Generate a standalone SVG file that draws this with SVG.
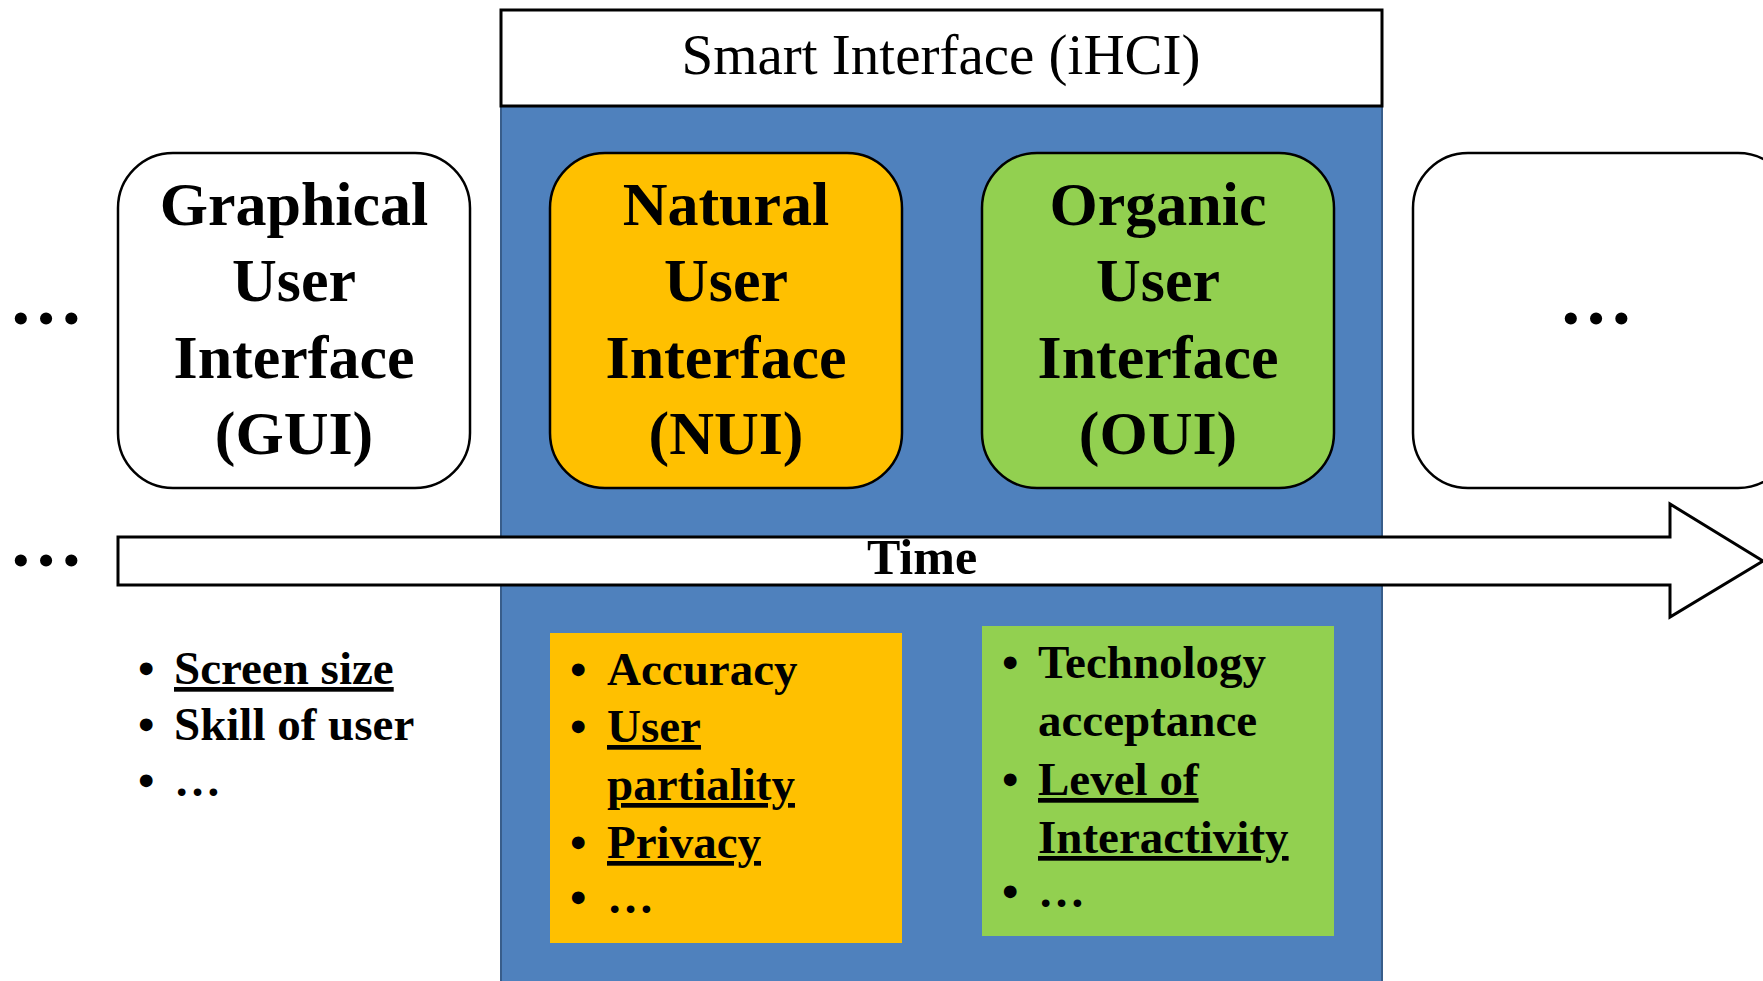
<svg xmlns="http://www.w3.org/2000/svg" width="1763" height="981" viewBox="0 0 1763 981">
<style>
.box{stroke:#000;stroke-width:2.5}
.big{font-family:"Liberation Serif",serif;font-weight:bold;font-size:62px;text-anchor:middle;fill:#000}
.li{font-family:"Liberation Serif",serif;font-weight:bold;font-size:47px;fill:#000}
.u{text-decoration:underline}
.dots{font-family:"Liberation Serif",serif;font-weight:bold;font-size:75px;fill:#000}
</style>
<rect width="1763" height="981" fill="#fff"/>
<g id="smart-interface">
<rect x="501" y="106" width="881" height="880" fill="#4F81BD" stroke="#385D8A" stroke-width="2"/>
<rect x="501" y="10" width="881" height="96" fill="#fff" stroke="#000" stroke-width="3"/>
<text x="941" y="74" font-family="Liberation Serif, serif" font-size="57" text-anchor="middle">Smart Interface (iHCI)</text>
</g>
<g id="gui">
<rect class="box" x="118" y="153" width="352" height="335" rx="55" fill="#fff"/>
<text class="big" x="294" y="225">Graphical</text>
<text class="big" x="294" y="301">User</text>
<text class="big" x="294" y="378">Interface</text>
<text class="big" x="294" y="454">(GUI)</text>
</g>
<g id="nui">
<rect class="box" x="550" y="153" width="352" height="335" rx="55" fill="#FFC000"/>
<text class="big" x="726" y="225">Natural</text>
<text class="big" x="726" y="301">User</text>
<text class="big" x="726" y="378">Interface</text>
<text class="big" x="726" y="454">(NUI)</text>
</g>
<g id="oui">
<rect class="box" x="982" y="153" width="352" height="335" rx="55" fill="#92D050"/>
<text class="big" x="1158" y="225">Organic</text>
<text class="big" x="1158" y="301">User</text>
<text class="big" x="1158" y="378">Interface</text>
<text class="big" x="1158" y="454">(OUI)</text>
</g>
<g id="next">
<rect class="box" x="1413" y="153" width="380" height="335" rx="55" fill="#fff"/>
<text class="dots" x="1596" y="324" text-anchor="middle">…</text>
</g>
<g id="left-dots">
<text class="dots" x="46" y="324" text-anchor="middle">…</text>
<text class="dots" x="46" y="566" text-anchor="middle">…</text>
</g>
<g id="connectors">
<polygon points="118,537 1670,537 1670,504 1763,561 1670,617 1670,585 118,585" fill="#fff" stroke="#000" stroke-width="3"/>
<text x="922" y="574" font-family="Liberation Serif, serif" font-weight="bold" font-size="50" text-anchor="middle">Time</text>
</g>
<g id="gui-list">
<text class="li" x="138" y="684">•</text><text class="li u" x="174" y="684">Screen size</text>
<text class="li" x="138" y="740">•</text><text class="li" x="174" y="740">Skill of user</text>
<text class="li" x="138" y="796">•</text><text class="li" x="174" y="796">…</text>
</g>
<g id="nui-list">
<rect x="550" y="633" width="352" height="310" fill="#FFC000"/>
<text class="li" x="570" y="685">•</text><text class="li" x="607" y="685">Accuracy</text>
<text class="li" x="570" y="742">•</text><text class="li u" x="607" y="742">User</text>
<text class="li u" x="607" y="800">partiality</text>
<text class="li" x="570" y="858">•</text><text class="li u" x="607" y="858">Privacy</text>
<text class="li" x="570" y="913">•</text><text class="li" x="607" y="913">…</text>
</g>
<g id="oui-list">
<rect x="982" y="626" width="352" height="310" fill="#92D050"/>
<text class="li" x="1002" y="678">•</text><text class="li" x="1038" y="678">Technology</text>
<text class="li" x="1038" y="736">acceptance</text>
<text class="li" x="1002" y="795">•</text><text class="li u" x="1038" y="795">Level of</text>
<text class="li u" x="1038" y="853">Interactivity</text>
<text class="li" x="1002" y="907">•</text><text class="li" x="1038" y="907">…</text>
</g>
</svg>
